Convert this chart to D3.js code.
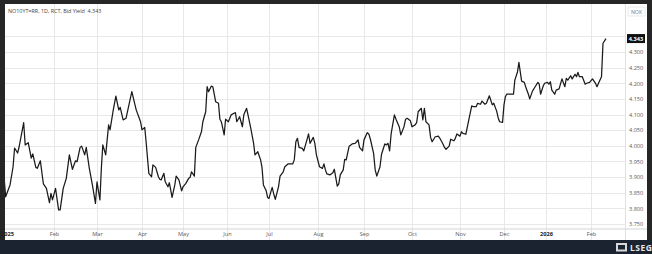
<!DOCTYPE html>
<html>
<head>
<meta charset="utf-8">
<script src="https://cdn.jsdelivr.net/npm/d3@7"></script>
<style>
  body { margin: 0; background: #262626; }
  svg { display: block; }
</style>
</head>
<body>
<div id="vis_canvas"></div>
<script>
//data - daily bid yield, NO10YT=RR
var dates = [
  "2024-12-30","2024-12-31","2025-01-03","2025-01-05","2025-01-06","2025-01-08","2025-01-09","2025-01-12",
  "2025-01-13","2025-01-15","2025-01-17","2025-01-18","2025-01-20","2025-01-21","2025-01-23","2025-01-25",
  "2025-01-27","2025-01-29","2025-01-30","2025-01-31","2025-02-02","2025-02-04","2025-02-05","2025-02-07",
  "2025-02-09","2025-02-11","2025-02-13","2025-02-15","2025-02-16","2025-02-18","2025-02-19","2025-02-21",
  "2025-02-22","2025-02-24","2025-02-26","2025-02-28","2025-03-01","2025-03-03","2025-03-04","2025-03-05",
  "2025-03-07","2025-03-09","2025-03-10","2025-03-12","2025-03-14","2025-03-16","2025-03-17","2025-03-19",
  "2025-03-21","2025-03-23","2025-03-25","2025-03-27","2025-03-28","2025-03-31","2025-04-01","2025-04-03",
  "2025-04-04","2025-04-06","2025-04-08","2025-04-09","2025-04-11","2025-04-13","2025-04-14","2025-04-15",
  "2025-04-17","2025-04-18","2025-04-20","2025-04-21","2025-04-23","2025-04-25","2025-04-26","2025-04-28",
  "2025-04-30","2025-05-01","2025-05-03","2025-05-05","2025-05-06","2025-05-07","2025-05-09","2025-05-10",
  "2025-05-12","2025-05-14","2025-05-15","2025-05-17","2025-05-18","2025-05-19","2025-05-21","2025-05-22",
  "2025-05-24","2025-05-26","2025-05-27","2025-05-28","2025-05-30","2025-05-31","2025-06-02","2025-06-04",
  "2025-06-06","2025-06-07","2025-06-08","2025-06-10","2025-06-12","2025-06-13","2025-06-15","2025-06-16",
  "2025-06-18","2025-06-20","2025-06-21","2025-06-23","2025-06-25","2025-06-26","2025-06-27","2025-06-29",
  "2025-06-30","2025-07-01","2025-07-03","2025-07-04","2025-07-05","2025-07-07","2025-07-08","2025-07-10",
  "2025-07-11","2025-07-13","2025-07-14","2025-07-16","2025-07-17","2025-07-18","2025-07-19","2025-07-20",
  "2025-07-22","2025-07-23","2025-07-25","2025-07-26","2025-07-27","2025-07-29","2025-07-30","2025-07-31",
  "2025-08-02","2025-08-04","2025-08-05","2025-08-06","2025-08-07","2025-08-09","2025-08-11","2025-08-12",
  "2025-08-14","2025-08-15","2025-08-16","2025-08-18","2025-08-19","2025-08-20","2025-08-22","2025-08-24",
  "2025-08-26","2025-08-27","2025-08-28","2025-08-29","2025-08-31","2025-09-01","2025-09-03","2025-09-04",
  "2025-09-05","2025-09-07","2025-09-08","2025-09-09","2025-09-11","2025-09-12","2025-09-14","2025-09-15",
  "2025-09-16","2025-09-17","2025-09-18","2025-09-20","2025-09-21","2025-09-23","2025-09-24","2025-09-26",
  "2025-09-27","2025-09-28","2025-09-30","2025-10-01","2025-10-03","2025-10-04","2025-10-05","2025-10-07",
  "2025-10-08","2025-10-09","2025-10-10","2025-10-12","2025-10-13","2025-10-14","2025-10-16","2025-10-18",
  "2025-10-19","2025-10-21","2025-10-22","2025-10-23","2025-10-25","2025-10-26","2025-10-28","2025-10-29",
  "2025-10-30","2025-11-01","2025-11-02","2025-11-03","2025-11-05","2025-11-07","2025-11-09","2025-11-10",
  "2025-11-12","2025-11-13","2025-11-15","2025-11-16","2025-11-18","2025-11-19","2025-11-21","2025-11-23",
  "2025-11-24","2025-11-26","2025-11-27","2025-11-28","2025-11-30","2025-12-01","2025-12-02","2025-12-03",
  "2025-12-05","2025-12-08","2025-12-09","2025-12-11","2025-12-12","2025-12-14","2025-12-16","2025-12-17",
  "2025-12-19","2025-12-20","2025-12-22","2025-12-24","2025-12-26","2025-12-27","2025-12-28","2025-12-30",
  "2025-12-31","2026-01-02","2026-01-03","2026-01-04","2026-01-05","2026-01-07","2026-01-08","2026-01-10",
  "2026-01-12","2026-01-14","2026-01-15","2026-01-16","2026-01-18","2026-01-19","2026-01-21","2026-01-22",
  "2026-01-23","2026-01-24","2026-01-26","2026-01-28","2026-01-29","2026-01-31","2026-02-02","2026-02-04",
  "2026-02-05","2026-02-06","2026-02-08","2026-02-09","2026-02-11"
];
var yields = [
  3.891,3.837,3.875,3.933,3.993,3.977,3.997,4.074,
  4.003,4.010,3.961,3.974,3.931,3.928,3.952,3.878,
  3.864,3.818,3.848,3.827,3.864,3.795,3.795,3.864,
  3.896,3.971,3.925,3.952,3.949,3.995,3.999,3.971,
  3.995,3.928,3.875,3.816,3.885,3.827,3.928,4.003,
  3.971,4.067,4.051,4.109,4.159,4.115,4.123,4.083,
  4.088,4.131,4.173,4.134,4.115,4.077,4.051,4.059,
  4.013,3.912,3.901,3.939,3.931,3.901,3.893,3.891,
  3.912,3.885,3.869,3.882,3.835,3.875,3.903,3.891,
  3.856,3.869,3.880,3.896,3.899,3.917,3.903,3.995,
  4.019,4.045,4.077,4.109,4.189,4.173,4.191,4.189,
  4.141,4.136,4.085,4.077,4.035,4.085,4.077,4.099,
  4.104,4.106,4.077,4.093,4.061,4.099,4.120,4.099,
  4.056,4.008,3.971,3.981,3.955,3.931,3.875,3.856,
  3.835,3.832,3.867,3.846,3.829,3.869,3.903,3.917,
  3.933,3.942,3.942,3.942,3.955,4.013,4.024,3.995,
  3.992,3.984,4.019,4.038,4.008,4.027,4.008,3.971,
  3.933,3.928,3.942,3.923,3.910,3.907,3.914,3.925,
  3.871,3.878,3.907,3.923,3.957,3.955,3.999,4.006,
  4.008,4.013,4.019,3.995,3.984,4.019,4.042,4.038,
  4.021,3.976,3.923,3.903,3.933,3.974,4.006,4.003,
  4.008,3.984,4.040,4.099,4.085,4.061,4.035,4.061,
  4.085,4.088,4.080,4.061,4.067,4.074,4.109,4.120,
  4.083,4.120,4.077,4.067,4.027,4.013,4.029,4.031,
  4.024,4.006,3.995,3.989,3.999,4.021,4.016,4.024,
  4.038,4.031,4.045,4.040,4.037,4.083,4.128,4.125,
  4.125,4.136,4.133,4.143,4.133,4.136,4.160,4.131,
  4.136,4.111,4.090,4.077,4.075,4.131,4.157,4.165,
  4.165,4.165,4.210,4.237,4.267,4.207,4.203,4.189,
  4.165,4.150,4.175,4.189,4.203,4.197,4.165,4.192,
  4.200,4.203,4.197,4.205,4.178,4.165,4.178,4.182,
  4.214,4.189,4.216,4.210,4.224,4.214,4.229,4.221,
  4.235,4.221,4.221,4.197,4.200,4.203,4.214,4.200,
  4.189,4.200,4.221,4.328,4.343
];

//axis ticks
var monthTicks = ["2025-01-01","2025-02-01","2025-03-01","2025-04-01","2025-05-01","2025-06-01",
  "2025-07-01","2025-08-01","2025-09-01","2025-10-01","2025-11-01","2025-12-01","2026-01-01","2026-02-01"];
var monthLabels = ["2025","Feb","Mar","Apr","May","Jun","Jul","Aug","Sep","Oct","Nov","Dec","2026","Feb"];
var yTicks = [3.75,3.80,3.85,3.90,3.95,4.00,4.05,4.10,4.15,4.20,4.25,4.30,4.35];
var lastLabel = "4.343";
var title = "NO10YT=RR, 1D, RCT, Bid Yield  4.343";
var currency = "NOK";

var W = 652, H = 254;
var panel = {x0: 5, y0: 4, x1: 647, y1: 240};
var plot = {x0: 5, x1: 625, y0: 4, y1: 229};

var parse = d3.timeParse("%Y-%m-%d");
var data = dates.map(function(d, i) { return {date: parse(d), v: yields[i]}; });

// chart spaces months by trading days, so the time scale is piecewise
var x = d3.scaleTime()
  .domain(["2024-12-01"].concat(monthTicks, ["2026-03-01"]).map(parse))
  .range([-35, 7, 54, 97, 142, 183, 227, 269, 318, 364, 412, 460, 504, 546, 591, 633]);

var y = d3.scaleLinear().domain([3.75, 4.30]).range([224, 52]);

var svg = d3.select("#vis_canvas").append("svg")
  .attr("width", W).attr("height", H);

// frame
svg.append("rect").attr("width", W).attr("height", H).attr("fill", "#262626");
svg.append("rect").attr("x", 0).attr("y", panel.y1).attr("width", W).attr("height", H - panel.y1)
  .attr("fill", "#1b2230");
svg.append("rect").attr("x", panel.x0).attr("y", panel.y0)
  .attr("width", panel.x1 - panel.x0).attr("height", panel.y1 - panel.y0)
  .attr("fill", "#ffffff");

svg.append("clipPath").attr("id", "clip").append("rect")
  .attr("x", plot.x0).attr("y", plot.y0)
  .attr("width", plot.x1 - plot.x0).attr("height", plot.y1 - plot.y0);

// gridlines
svg.append("g").selectAll("line").data(yTicks).enter().append("line")
  .attr("x1", plot.x0).attr("x2", plot.x1)
  .attr("y1", function(d) { return Math.round(y(d)) + 0.5; })
  .attr("y2", function(d) { return Math.round(y(d)) + 0.5; })
  .attr("stroke", "#e8e8e8").attr("stroke-width", 1);

svg.append("g").selectAll("line").data(monthTicks.slice(1)).enter().append("line")
  .attr("x1", function(d) { return Math.round(x(parse(d))) + 0.5; })
  .attr("x2", function(d) { return Math.round(x(parse(d))) + 0.5; })
  .attr("y1", plot.y0).attr("y2", panel.y1)
  .attr("stroke", "#e8e8e8").attr("stroke-width", 1);

// axis separators
svg.append("line").attr("x1", plot.x1 + 0.5).attr("x2", plot.x1 + 0.5)
  .attr("y1", panel.y0).attr("y2", panel.y1)
  .attr("stroke", "#e0e0e0");
svg.append("line").attr("x1", panel.x0).attr("x2", panel.x1)
  .attr("y1", plot.y1).attr("y2", plot.y1)
  .attr("stroke", "#d4d4d4").attr("stroke-width", 1.2);

// y axis labels on the right
var yAxis = d3.axisRight(y).tickValues(yTicks.filter(function(d) { return d < 4.33; }))
  .tickFormat(d3.format(".3f")).tickSize(0).tickPadding(4);
var gy = svg.append("g").attr("transform", "translate(" + plot.x1 + ",0)").call(yAxis);
gy.select(".domain").remove();
gy.selectAll("text").attr("font-family", "Open Sans, sans-serif").attr("font-size", 5.6)
  .attr("fill", "#5a5a5a");

// month labels
var xAxis = d3.axisBottom(x).tickValues(monthTicks.map(parse))
  .tickFormat(function(d, i) { return monthLabels[i]; }).tickSize(0).tickPadding(3);
var gx = svg.append("g").attr("transform", "translate(0," + plot.y1 + ")").call(xAxis);
gx.select(".domain").remove();
gx.selectAll("text").attr("font-family", "Open Sans, sans-serif").attr("font-size", 5.6)
  .attr("font-weight", function(d, i) { return +monthLabels[i] ? "bold" : null; })
  .attr("fill", function(d, i) { return +monthLabels[i] ? "#222" : "#5a5a5a"; });

// price line
var line = d3.line().x(function(d) { return x(d.date); }).y(function(d) { return y(d.v); });
svg.append("path").datum(data)
  .attr("clip-path", "url(#clip)")
  .attr("d", line)
  .attr("fill", "none").attr("stroke", "#1a1a1a").attr("stroke-width", 1.25)
  .attr("stroke-linejoin", "round");

// last value tag
var last = data[data.length - 1];
svg.append("rect").attr("x", plot.x1 + 2).attr("y", y(last.v) - 4.5)
  .attr("width", 18).attr("height", 9).attr("fill", "#111");
svg.append("text").attr("x", plot.x1 + 11).attr("y", y(last.v) + 2)
  .attr("text-anchor", "middle").attr("font-family", "Open Sans, sans-serif")
  .attr("font-size", 5.6).attr("font-weight", "bold").attr("fill", "#fff").text(lastLabel);

// header texts
svg.append("text").attr("x", 8).attr("y", 13)
  .attr("font-family", "Open Sans, sans-serif").attr("font-size", 5.4)
  .attr("fill", "#444").style("white-space", "pre").text(title);
svg.append("rect").attr("x", 628).attr("y", 7).attr("width", 17).attr("height", 9)
  .attr("fill", "none").attr("stroke", "#e4e4e4").attr("stroke-width", 0.8);
svg.append("text").attr("x", 636.5).attr("y", 13.5).attr("text-anchor", "middle")
  .attr("font-family", "Open Sans, sans-serif").attr("font-size", 5.2)
  .attr("fill", "#777").text(currency);

// footer logo
var logo = svg.append("g").attr("transform", "translate(616,243)");
logo.append("rect").attr("width", 11).attr("height", 8.5).attr("fill", "#d8d8d8");
logo.append("rect").attr("x", 2).attr("y", 2).attr("width", 7).attr("height", 4.5).attr("fill", "#1b2230");
logo.append("text").attr("x", 14).attr("y", 8)
  .attr("font-family", "Open Sans, sans-serif").attr("font-size", 8.5).attr("font-weight", "bold")
  .attr("letter-spacing", 0.5).attr("fill", "#e8e8e8").text("LSEG");
</script>
</body>
</html>
